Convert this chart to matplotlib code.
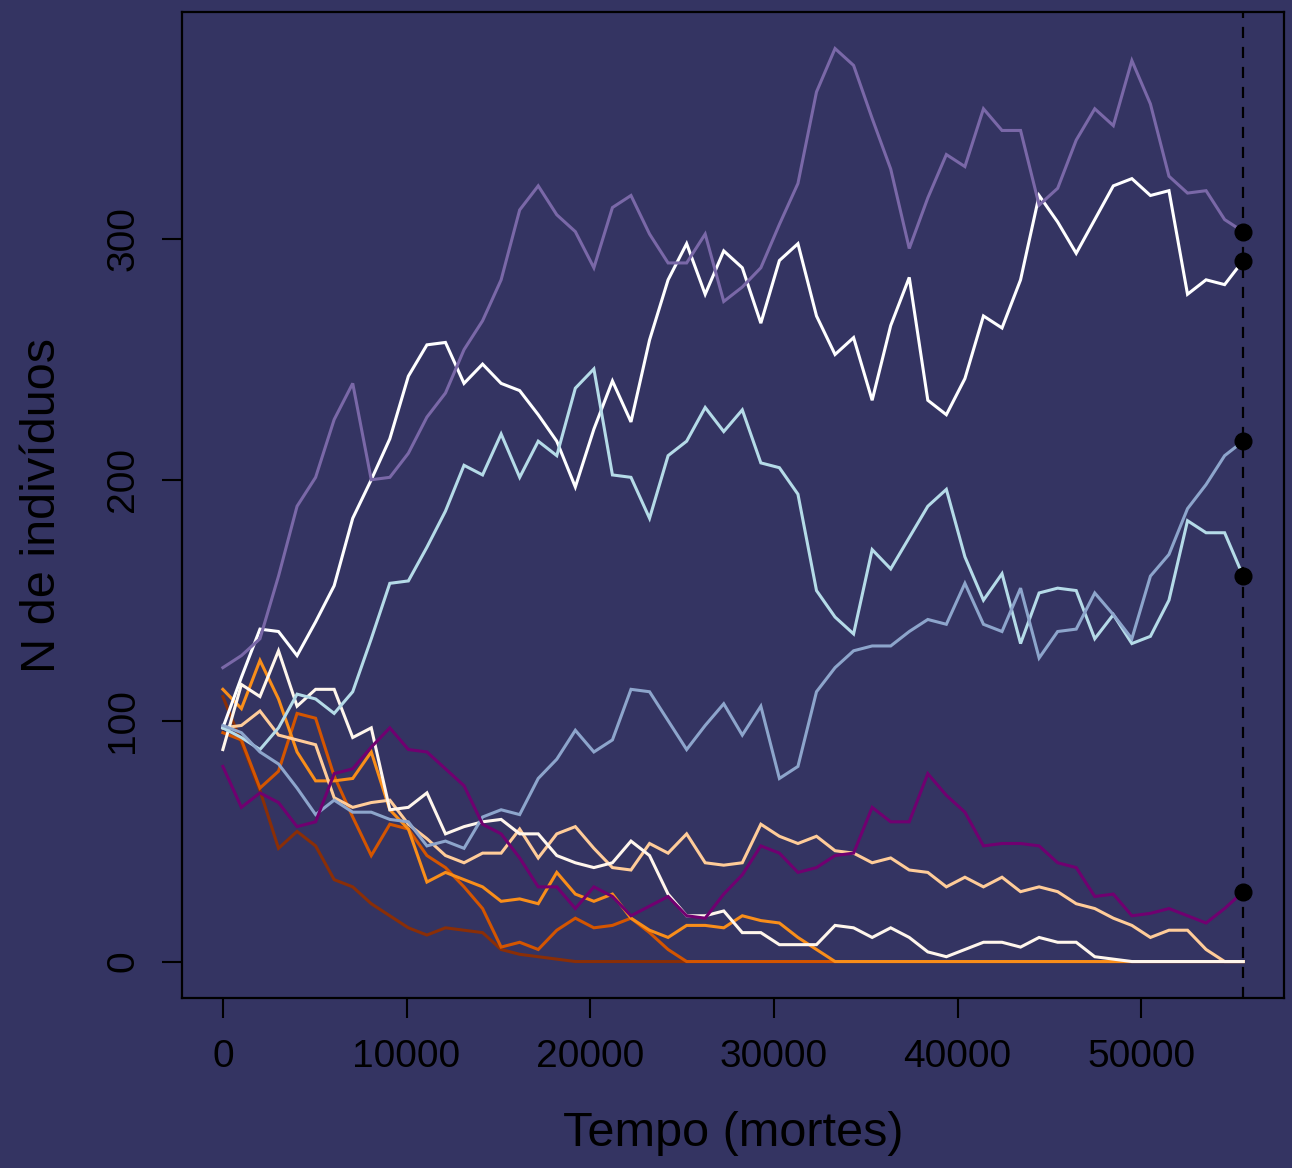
import numpy as np
import matplotlib.pyplot as plt

plt.rcParams['font.family'] = ['Liberation Sans', 'DejaVu Sans']

# tempo (mortes) amostrado a cada ~1010 mortes
tempo = np.linspace(0, 55550, 56)

# N de individuos por especie
sp_lilas = [122, 127, 134, 160, 189, 201, 225, 240, 200, 201,
            211, 226, 236, 254, 266, 283, 312, 322, 310, 303,
            288, 313, 318, 302, 290, 290, 302, 274, 280, 288,
            306, 323, 361, 379, 372, 350, 329, 296, 317, 335,
            330, 354, 345, 345, 314, 321, 341, 354, 347, 374,
            356, 326, 319, 320, 308, 303]
sp_branca1 = [97, 118, 138, 137, 127, 141, 156, 184, 200, 217,
              243, 256, 257, 240, 248, 240, 237, 227, 216, 197,
              221, 241, 224, 258, 283, 298, 277, 295, 288, 265,
              291, 298, 268, 252, 259, 233, 264, 284, 233, 227,
              242, 268, 263, 283, 318, 307, 294, 308, 322, 325,
              318, 320, 277, 283, 281, 291]
sp_branca2 = [88, 115, 110, 129, 106, 113, 113, 93, 97, 63,
              64, 70, 53, 56, 58, 59, 53, 53, 44, 41,
              39, 41, 50, 44, 28, 19, 19, 21, 12, 12,
              7, 7, 7, 15, 14, 10, 14, 10, 4, 2,
              5, 8, 8, 6, 10, 8, 8, 2, 1, 0,
              0, 0, 0, 0, 0, 0]
sp_azulclaro = [97, 93, 88, 97, 111, 109, 103, 112, 134, 157,
                158, 172, 187, 206, 202, 219, 201, 216, 210, 238,
                246, 202, 201, 184, 210, 216, 230, 220, 229, 207,
                205, 194, 154, 143, 136, 171, 163, 176, 189, 196,
                168, 150, 161, 132, 153, 155, 154, 134, 144, 132,
                135, 150, 183, 178, 178, 160]
sp_azul = [98, 95, 87, 82, 72, 61, 67, 62, 62, 59,
           58, 48, 50, 47, 60, 63, 61, 76, 84, 96,
           87, 92, 113, 112, 100, 88, 98, 107, 94, 106,
           76, 81, 112, 122, 129, 131, 131, 137, 142, 140,
           157, 140, 137, 155, 126, 137, 138, 153, 144, 134,
           160, 169, 188, 198, 210, 216]
sp_roxa = [81, 64, 70, 66, 56, 58, 78, 80, 89, 97,
           88, 87, 80, 73, 57, 53, 43, 31, 31, 22,
           31, 27, 19, 23, 27, 19, 18, 28, 36, 48,
           45, 37, 39, 44, 45, 64, 58, 58, 78, 69,
           62, 48, 49, 49, 48, 41, 39, 27, 28, 19,
           20, 22, 19, 16, 22, 29]
sp_pessego = [97, 98, 104, 94, 92, 90, 68, 64, 66, 67,
              57, 51, 44, 41, 45, 45, 55, 43, 53, 56,
              47, 39, 38, 49, 45, 53, 41, 40, 41, 57,
              52, 49, 52, 46, 45, 41, 43, 38, 37, 31,
              35, 31, 35, 29, 31, 29, 24, 22, 18, 15,
              10, 13, 13, 5, 0, 0]
sp_laranja = [113, 105, 125, 109, 87, 75, 75, 76, 87, 63,
              55, 33, 37, 34, 31, 25, 26, 24, 37, 28,
              25, 28, 18, 13, 10, 15, 15, 14, 19, 17,
              16, 10, 5, 0, 0, 0, 0, 0, 0, 0,
              0, 0, 0, 0, 0, 0, 0, 0, 0, 0,
              0, 0, 0, 0, 0, 0]
sp_laranja_esc = [95, 92, 72, 79, 103, 101, 77, 60, 44, 57,
                  55, 44, 39, 31, 22, 6, 8, 5, 13, 18,
                  14, 15, 18, 12, 5, 0, 0, 0, 0, 0,
                  0, 0, 0, 0, 0, 0, 0, 0, 0, 0,
                  0, 0, 0, 0, 0, 0, 0, 0, 0, 0,
                  0, 0, 0, 0, 0, 0]
sp_marrom = [110, 91, 71, 47, 54, 48, 34, 31, 24, 19,
             14, 11, 14, 13, 12, 5, 3, 2, 1, 0,
             0, 0, 0, 0, 0, 0, 0, 0, 0, 0,
             0, 0, 0, 0, 0, 0, 0, 0, 0, 0,
             0, 0, 0, 0, 0, 0, 0, 0, 0, 0,
             0, 0, 0, 0, 0, 0]

especies = [sp_marrom, sp_laranja_esc, sp_laranja, sp_pessego, sp_branca2,
            sp_branca1, sp_azulclaro, sp_azul, sp_lilas, sp_roxa]
cores = ['#8a2e06', '#d45500', '#f98e1a', '#ffcc99', '#fff6ec',
         '#ffffff', '#b5dbe8', '#8da5cc', '#7a68a8', '#700070']

fundo = '#343462'
fig = plt.figure(figsize=(12.92, 11.68), dpi=100, facecolor=fundo)
ax = fig.add_axes([0.1409, 0.1455, 0.9938 - 0.1409, 0.9897 - 0.1455])
ax.set_facecolor(fundo)

for n, cor in zip(especies, cores):
    ax.plot(tempo, n, color=cor, lw=2.2, solid_joinstyle='miter')

ax.axvline(tempo[-1], color='black', lw=1.6, ls=(0, (5, 4)))

finais = np.array([n[-1] for n in especies])
vivas = finais > 0
ax.plot(np.full(vivas.sum(), tempo[-1]), finais[vivas], 'o', color='black', ms=12)

todos = np.concatenate([np.array(n) for n in especies])
xr = tempo[-1] - tempo[0]
yr = todos.max() - todos.min()
ax.set_xlim(tempo[0] - 0.04 * xr, tempo[-1] + 0.04 * xr)
ax.set_ylim(todos.min() - 0.04 * yr, todos.max() + 0.04 * yr)

ax.set_xticks([0, 10000, 20000, 30000, 40000, 50000])
ax.set_yticks([0, 100, 200, 300])
ax.tick_params(axis='both', direction='out', length=14.5, width=1.5,
               color='black', labelcolor='black', labelsize=28, pad=15)
ax.tick_params(axis='y', labelrotation=90)
for lab in ax.get_yticklabels():
    lab.set_va('center')

for s in ax.spines.values():
    s.set_color('black')
    s.set_linewidth(1.6)

ax.set_xlabel('Tempo (mortes)', fontsize=35, color='black', labelpad=26)
ax.set_ylabel('N de indivíduos', fontsize=35, color='black', labelpad=29)

fig.savefig('out.png', dpi=100, facecolor=fundo)
